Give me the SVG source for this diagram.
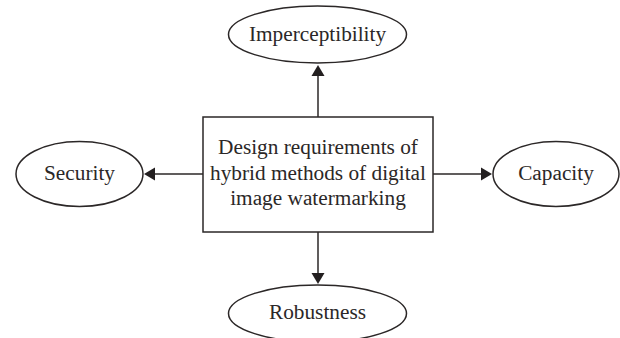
<svg xmlns="http://www.w3.org/2000/svg" width="620" height="338" viewBox="0 0 620 338">
<style>
.n{fill:#fff;stroke:#2b2727;stroke-width:1.5}
.c{stroke:#2b2727;stroke-width:1.5;fill:none}
.a{fill:#231f20;stroke:none}
text{font-family:"Liberation Serif","Times New Roman",serif;font-size:21.300px;fill:#2b2727;text-anchor:middle}
</style>
<rect width="620" height="338" fill="#fff"/>
<g id="connectors">
<path class="c" d="M318 117V76"/><path class="a" d="M318 65l6.500 11h-13z"/>
<path class="c" d="M203 174H155"/><path class="a" d="M144 174l11-6.500v13z"/>
<path class="c" d="M433 174H482"/><path class="a" d="M492 174l-11-6.500v13z"/>
<path class="c" d="M318 232V274"/><path class="a" d="M318 284l-6.500-11h13z"/>
</g>
<g id="center"><rect class="n" x="203" y="117" width="230" height="115"/>
<text x="318" y="154">Design requirements of</text>
<text x="318" y="180">hybrid methods of digital</text>
<text x="318" y="205">image watermarking</text></g>
<g id="imperceptibility"><ellipse class="n" cx="317.500" cy="34.500" rx="89" ry="28.500"/><text x="317.500" y="41">Imperceptibility</text></g>
<g id="security"><ellipse class="n" cx="79.500" cy="174" rx="63.500" ry="32.500"/><text x="79.500" y="180">Security</text></g>
<g id="capacity"><ellipse class="n" cx="556" cy="174" rx="63" ry="32.500"/><text x="556" y="180">Capacity</text></g>
<g id="robustness"><ellipse class="n" cx="317.500" cy="313.500" rx="89" ry="28.500"/><text x="317.500" y="319">Robustness</text></g>
</svg>
